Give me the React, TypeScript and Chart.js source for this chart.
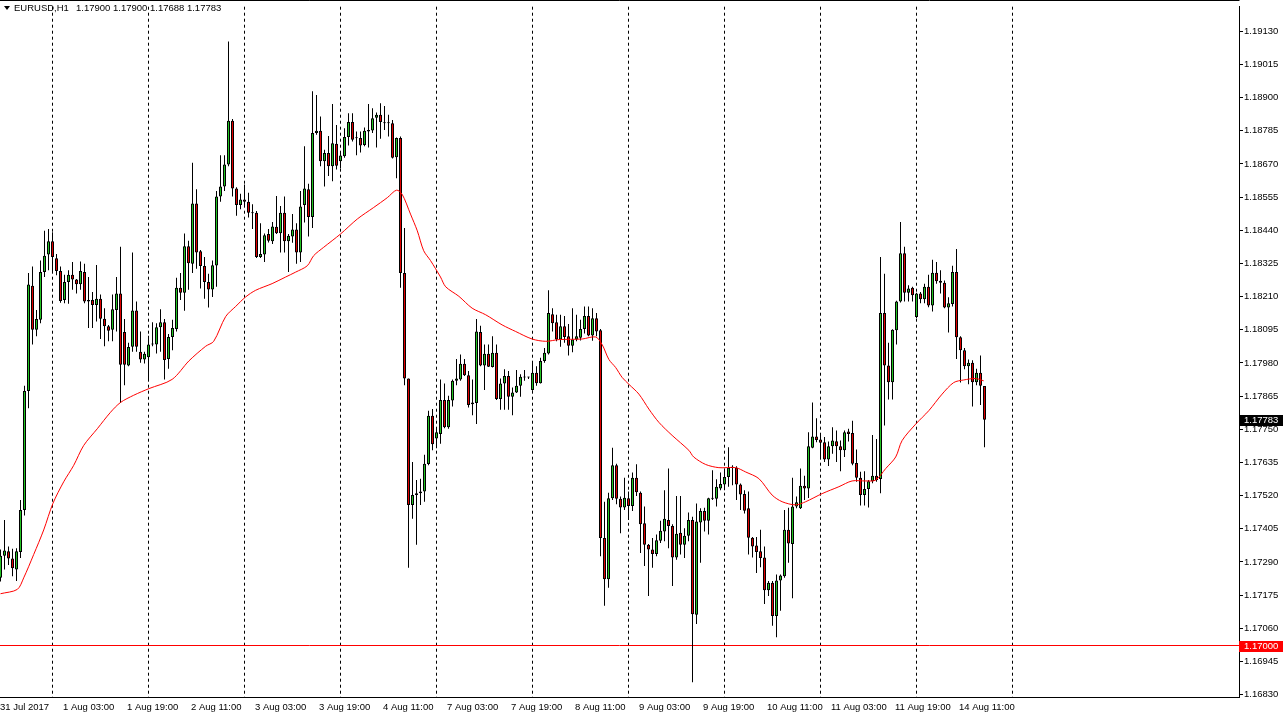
import React, { useEffect, useRef } from "react";
import { Chart, registerables } from "chart.js";

Chart.register(...registerables);

// EURUSD H1 candles, prices in points (price x 100000)
const openPts = [
  117235, 117312, 117327, 117302, 117264, 117325, 117470, 117883, 118248, 118095,
  118130, 118295, 118356, 118402, 118343, 118299, 118198, 118261, 118286, 118269,
  118253, 118295, 118193, 118198, 118181, 118203, 118133, 118107, 118095, 118164,
  118221, 118087, 117971, 118036, 118162, 118019, 117992, 118000, 118044, 118044,
  118104, 118121, 117994, 118070, 118098, 118241, 118223, 118385, 118324, 118533,
  118367, 118316, 118261, 118235, 118318, 118557, 118592, 118668, 118820, 118585,
  118528, 118547, 118539, 118501, 118501, 118347, 118356, 118427, 118402, 118452,
  118430, 118501, 118402, 118418, 118443, 118363, 118528, 118582, 118486, 118777,
  118785, 118679, 118708, 118662, 118740, 118679, 118697, 118763, 118815, 118759,
  118760, 118736, 118782, 118786, 118830, 118840, 118811, 118811, 118811, 118693,
  118760, 118292, 117926, 117488, 117522, 117528, 117534, 117630, 117797, 117718,
  117734, 117852, 117757, 117850, 117918, 117923, 117977, 117937, 117843, 117841,
  118087, 117971, 118012, 117966, 118015, 117855, 117909, 117935, 117863, 117878,
  117901, 117930, 117930, 117886, 117946, 117910, 117987, 118013, 118149, 118121,
  118061, 118107, 118073, 118040, 118061, 118067, 118098, 118143, 118075, 118135,
  118093, 117373, 117230, 117511, 117625, 117509, 117479, 117511, 117484, 117582,
  117530, 117424, 117350, 117333, 117318, 117364, 117396, 117436, 117415, 117306,
  117391, 117350, 117381, 117436, 117107, 117427, 117467, 117433, 117511, 117509,
  117545, 117559, 117585, 117620, 117617, 117559, 117526, 117476, 117374, 117347,
  117327, 117306, 117192, 117218, 117103, 117226, 117241, 117402, 117352, 117482,
  117476, 117554, 117545, 117686, 117725, 117715, 117705, 117645, 117691, 117709,
  117691, 117677, 117742, 117737, 117633, 117582, 117522, 117543, 117570, 117589,
  117578, 118153, 117971, 117913, 118093, 118193, 118360, 118223, 118241, 118139,
  118221, 118201, 118244, 118179, 118293, 118265, 118258, 118172, 118184, 118295,
  118069, 118024, 117969, 117981, 117913, 117946, 117900,
];

const highPts = [
  117333, 117436, 117344, 117336, 117338, 117505, 117901, 118292, 118314, 118164,
  118335, 118438, 118444, 118433, 118358, 118314, 118286, 118301, 118330, 118271,
  118332, 118324, 118278, 118226, 118320, 118217, 118170, 118112, 118217, 118278,
  118383, 118132, 118050, 118363, 118193, 118089, 118019, 118074, 118121, 118118,
  118166, 118132, 118080, 118130, 118275, 118292, 118429, 118404, 118674, 118582,
  118372, 118347, 118289, 118335, 118576, 118700, 118700, 119094, 118826, 118589,
  118567, 118599, 118570, 118530, 118507, 118464, 118429, 118444, 118469, 118559,
  118524, 118557, 118427, 118496, 118464, 118576, 118731, 118601, 118922, 118909,
  118834, 118719, 118767, 118878, 118805, 118713, 118794, 118846, 118846, 118782,
  118782, 118796, 118878, 118863, 118848, 118880, 118871, 118840, 118822, 118762,
  118765, 118448, 117926, 117637, 117574, 117579, 117662, 117814, 117820, 117757,
  117923, 117909, 117866, 117923, 117994, 118009, 117994, 117952, 117923, 118132,
  118109, 118044, 118044, 118073, 118044, 117926, 117958, 117952, 117895, 117956,
  117941, 117956, 117932, 117981, 117969, 117998, 118032, 118232, 118170, 118147,
  118147, 118143, 118115, 118170, 118147, 118130, 118176, 118176, 118170, 118153,
  118098, 117499, 117530, 117686, 117631, 117517, 117582, 117534, 117600, 117629,
  117534, 117482, 117352, 117373, 117385, 117433, 117539, 117614, 117421, 117519,
  117519, 117407, 117462, 117447, 117493, 117476, 117478, 117513, 117608, 117577,
  117600, 117614, 117688, 117625, 117622, 117562, 117539, 117534, 117377, 117377,
  117402, 117344, 117224, 117224, 117247, 117247, 117470, 117478, 117582, 117517,
  117614, 117589, 117740, 117843, 117788, 117731, 117723, 117708, 117757, 117746,
  117711, 117746, 117752, 117780, 117680, 117603, 117605, 117574, 117730, 117716,
  118347, 118289, 118050, 118097, 118196, 118469, 118383, 118249, 118244, 118223,
  118226, 118255, 118286, 118338, 118330, 118301, 118266, 118208, 118317, 118375,
  118073, 118032, 117992, 117989, 117960, 118006, 117900,
];

const lowPts = [
  117222, 117264, 117280, 117241, 117224, 117304, 117451, 117823, 118044, 118073,
  118118, 118278, 118301, 118299, 118284, 118189, 118187, 118185, 118234, 118221,
  118234, 118187, 118101, 118101, 118124, 118063, 118038, 118055, 118055, 118089,
  117841, 117903, 117969, 118019, 118019, 117981, 117978, 117922, 118038, 118013,
  118019, 117923, 117960, 118024, 118089, 118198, 118161, 118234, 118292, 118307,
  118238, 118203, 118172, 118209, 118244, 118539, 118576, 118662, 118557, 118490,
  118513, 118524, 118484, 118444, 118344, 118344, 118330, 118398, 118392, 118427,
  118363, 118363, 118295, 118397, 118324, 118330, 118467, 118418, 118448, 118771,
  118662, 118592, 118628, 118610, 118651, 118654, 118691, 118734, 118748, 118700,
  118710, 118731, 118727, 118777, 118727, 118757, 118788, 118765, 118689, 118620,
  118241, 117903, 117270, 117440, 117350, 117488, 117499, 117625, 117677, 117684,
  117700, 117754, 117752, 117829, 117903, 117918, 117935, 117826, 117799, 117768,
  117969, 117886, 117966, 117964, 117852, 117818, 117818, 117818, 117799, 117876,
  117863, 117918, 117924, 117884, 117901, 117909, 117981, 118009, 118089, 118055,
  118036, 118050, 118006, 118017, 118055, 118058, 118082, 118073, 118057, 118073,
  117310, 117138, 117201, 117505, 117490, 117390, 117470, 117436, 117467, 117519,
  117321, 117276, 117172, 117270, 117310, 117356, 117362, 117338, 117207, 117298,
  117316, 117304, 117362, 116873, 117075, 117287, 117396, 117385, 117505, 117482,
  117539, 117539, 117551, 117556, 117505, 117470, 117458, 117316, 117306, 117252,
  117272, 117144, 117172, 117069, 117029, 117121, 117235, 117287, 117164, 117476,
  117474, 117505, 117512, 117684, 117705, 117654, 117637, 117623, 117665, 117637,
  117605, 117654, 117708, 117625, 117568, 117486, 117486, 117479, 117563, 117568,
  117528, 117763, 117853, 117853, 118044, 118190, 118193, 118193, 118193, 118135,
  118187, 118187, 118173, 118158, 118255, 118221, 118170, 118086, 118176, 117994,
  117912, 117958, 117906, 117829, 117903, 117834, 117688,
];

const closePts = [
  117312, 117330, 117302, 117268, 117327, 117470, 117883, 118252, 118095, 118132,
  118295, 118352, 118402, 118347, 118299, 118195, 118261, 118286, 118269, 118253,
  118299, 118193, 118198, 118181, 118203, 118133, 118107, 118092, 118166, 118221,
  117974, 117974, 118035, 118162, 118036, 117992, 118012, 118044, 118047, 118104,
  118121, 117990, 118070, 118101, 118241, 118223, 118385, 118326, 118533, 118363,
  118316, 118261, 118235, 118319, 118557, 118592, 118668, 118820, 118585, 118528,
  118547, 118539, 118501, 118499, 118347, 118358, 118423, 118404, 118453, 118430,
  118501, 118402, 118421, 118443, 118363, 118522, 118585, 118486, 118777, 118785,
  118679, 118708, 118662, 118742, 118664, 118699, 118763, 118815, 118754, 118759,
  118734, 118785, 118788, 118828, 118840, 118815, 118811, 118811, 118691, 118760,
  118292, 117926, 117488, 117522, 117528, 117534, 117631, 117797, 117698, 117740,
  117852, 117757, 117852, 117918, 117926, 117977, 117937, 117834, 117837, 118089,
  117971, 118012, 117967, 118015, 117855, 117909, 117935, 117863, 117878, 117901,
  117932, 117930, 117930, 117946, 117910, 117987, 118015, 118153, 118118, 118061,
  118107, 118070, 118040, 118061, 118073, 118098, 118143, 118075, 118135, 118089,
  117373, 117230, 117511, 117625, 117509, 117479, 117513, 117484, 117582, 117532,
  117421, 117350, 117333, 117318, 117365, 117398, 117440, 117415, 117306, 117388,
  117350, 117381, 117436, 117109, 117430, 117467, 117433, 117511, 117509, 117551,
  117560, 117585, 117617, 117616, 117559, 117524, 117468, 117374, 117344, 117325,
  117304, 117192, 117218, 117103, 117226, 117243, 117402, 117354, 117482, 117497,
  117554, 117545, 117691, 117725, 117713, 117703, 117645, 117691, 117711, 117691,
  117677, 117740, 117734, 117631, 117582, 117522, 117543, 117570, 117589, 117574,
  118153, 117971, 117913, 118095, 118193, 118360, 118223, 118238, 118215, 118221,
  118201, 118244, 118179, 118293, 118263, 118258, 118172, 118187, 118295, 118069,
  118024, 117969, 117981, 117913, 117946, 117901, 117783,
];

// Moving average (red line), read at these bar positions
const maIdx = [
  0, 4.2, 5.8, 8.3, 10.8, 13.1, 15.8, 18.3, 20.8, 24.2, 27.5, 30, 33.3, 37.1, 42.9,
  47.1, 51.3, 53.3, 56.3, 58.8, 61.3, 63.8, 67.9, 71.3, 73.8, 76.7, 78.3, 80.8, 85,
  89.2, 93.3, 96.7, 99, 100.4, 102.5, 104.2, 105.8, 107.5, 110, 111.3, 114.6, 117.9,
  121.3, 125.4, 128.8, 132.9, 136.3, 139.6, 145.4, 148.8, 150.4, 152.1, 153.8, 155.4,
  157.1, 159.6, 162.1, 164.6, 167.9, 172.1, 173.3, 176.3, 179.6, 183.8, 186.3, 189.6,
  192.9, 195.4, 198.8, 201.3, 205.4, 209.6, 212.9, 216.3, 218.8, 221.3, 223.8, 225.4,
  228.8, 232.1, 235.4, 238.3, 240.8, 243.8, 245.8,
];
const maPts = [
  117180, 117195, 117235, 117316, 117401, 117493, 117568, 117625, 117694, 117752, 117809,
  117843, 117868, 117891, 117923, 117987, 118038, 118055, 118141, 118176, 118209, 118232,
  118255, 118278, 118295, 118317, 118352, 118381, 118427, 118479, 118519, 118553, 118579,
  118565, 118496, 118438, 118369, 118335, 118278, 118244, 118211, 118170, 118147, 118112,
  118089, 118063, 118055, 118061, 118063, 118070, 118044, 117992, 117964, 117930, 117906,
  117872, 117820, 117774, 117729, 117677, 117654, 117628, 117617, 117617, 117602, 117579,
  117522, 117499, 117488, 117499, 117527, 117551, 117571, 117571, 117574, 117614, 117654,
  117711, 117768, 117815, 117872, 117912, 117921, 117926, 117918,
];

const yTickPts = [
  116830, 116945, 117060, 117175, 117290, 117405, 117520, 117635, 117750, 117865, 117980,
  118095, 118210, 118325, 118440, 118555, 118670, 118785, 118900, 119015, 119130,
];

const timeLabels = [
  "31 Jul 2017", "1 Aug 03:00", "1 Aug 19:00", "2 Aug 11:00", "3 Aug 03:00", "3 Aug 19:00",
  "4 Aug 11:00", "7 Aug 03:00", "7 Aug 19:00", "8 Aug 11:00", "9 Aug 03:00", "9 Aug 19:00",
  "10 Aug 11:00", "11 Aug 03:00", "11 Aug 19:00", "14 Aug 11:00",
];
const timeLabelIdx = [0, 16, 32, 48, 64, 80, 96, 112, 128, 144, 160, 176, 192, 208, 224, 240];
const gridIdx = [13, 37, 61, 85, 109, 133, 157, 181, 205, 229, 253];

const symbolTitle = "EURUSD,H1";
const lastBarPts = [117900, 117900, 117688, 117783];
const levelPts = 117000;

const BULL = "#22c422";
const BEAR = "#e00000";
const FONT_FAMILY = '"Liberation Sans", Arial, sans-serif';
const FONT = `9.5px ${FONT_FAMILY}`;
const fmt = (v: number) => (v / 100000).toFixed(5);

const overlayPlugin = {
  id: "mt4Overlay",
  beforeDatasetsDraw(chart: any) {
    const { ctx, chartArea: a, scales } = chart;
    const x = scales.x;
    const y = scales.y;
    ctx.save();
    ctx.strokeStyle = "#000";
    ctx.lineWidth = 1;
    ctx.setLineDash([3, 3]);
    for (const g of gridIdx) {
      const px = Math.floor(x.getPixelForValue(g)) + 0.5;
      ctx.beginPath();
      ctx.moveTo(px, a.top);
      ctx.lineTo(px, a.bottom);
      ctx.stroke();
    }
    ctx.setLineDash([]);
    const ly = Math.floor(y.getPixelForValue(levelPts)) + 0.5;
    ctx.strokeStyle = "#ff0000";
    ctx.beginPath();
    ctx.moveTo(a.left, ly);
    ctx.lineTo(a.right, ly);
    ctx.stroke();
    ctx.restore();
  },
  afterDraw(chart: any) {
    const { ctx, chartArea: a, scales } = chart;
    const x = scales.x;
    const y = scales.y;
    ctx.save();
    // top frame line
    ctx.strokeStyle = "#000";
    ctx.lineWidth = 1;
    ctx.beginPath();
    ctx.moveTo(0, 0.5);
    ctx.lineTo(a.right + 0.5, 0.5);
    ctx.stroke();

    ctx.font = FONT;
    ctx.textBaseline = "middle";
    ctx.textAlign = "left";
    ctx.fillStyle = "#000";
    // header
    ctx.beginPath();
    ctx.moveTo(4, 6);
    ctx.lineTo(10, 6);
    ctx.lineTo(7, 10);
    ctx.closePath();
    ctx.fill();
    ctx.fillText(symbolTitle, 14, 8.5);
    ctx.fillText(lastBarPts.map(fmt).join(" "), 76, 8.5);

    // time labels
    timeLabels.forEach((t, k) => {
      const px = Math.max(0, x.getPixelForValue(timeLabelIdx[k]) - 1.5);
      ctx.fillText(t, px, 707.5);
    });

    // current price box
    const lastClose = closePts[closePts.length - 1];
    const cy = Math.round(y.getPixelForValue(lastClose));
    ctx.fillStyle = "#000";
    ctx.fillRect(a.right + 1, cy - 5, 1283 - a.right - 1, 11);
    ctx.fillStyle = "#fff";
    ctx.fillText(fmt(lastClose), a.right + 5, cy + 0.5);

    // level box
    const ry = Math.round(y.getPixelForValue(levelPts));
    ctx.fillStyle = "#ff0000";
    ctx.fillRect(a.right, ry - 5, 1283 - a.right, 11);
    ctx.fillStyle = "#fff";
    ctx.fillText(fmt(levelPts), a.right + 5, ry + 0.5);
    ctx.restore();
  },
};

export default function App() {
  const canvasRef = useRef<HTMLCanvasElement | null>(null);

  useEffect(() => {
    const canvas = canvasRef.current;
    if (!canvas) return;
    const idx = openPts.map((_, i) => i);
    const wickData = idx.map((i) => ({ x: i, y: [lowPts[i], highPts[i]] }));
    const bodyData = idx.map((i) => ({
      x: i,
      y: [Math.min(openPts[i], closePts[i]), Math.max(openPts[i], closePts[i])],
    }));
    const bodyColors = idx.map((i) =>
      closePts[i] > openPts[i] ? BULL : closePts[i] < openPts[i] ? BEAR : "#000"
    );
    const maData = maIdx.map((v, k) => ({ x: v, y: maPts[k] }));

    const chart = new Chart(canvas, {
      type: "bar",
      data: {
        datasets: [
          {
            type: "bar",
            label: "body",
            data: bodyData as any,
            backgroundColor: bodyColors,
            borderColor: "#000",
            borderWidth: 1,
            borderSkipped: false,
            barThickness: 3,
            minBarLength: 1,
            grouped: false,
            inflateAmount: 0,
            order: 1,
          } as any,
          {
            type: "bar",
            label: "wick",
            data: wickData as any,
            backgroundColor: "#000",
            borderWidth: 0,
            barThickness: 1,
            grouped: false,
            inflateAmount: 0,
            order: 2,
          } as any,
          {
            type: "line",
            label: "MA",
            data: maData as any,
            borderColor: "#ff0000",
            borderWidth: 1,
            pointRadius: 0,
            tension: 0.3,
            order: 0,
          } as any,
        ],
      },
      options: {
        responsive: false,
        animation: false,
        devicePixelRatio: 1,
        events: [],
        layout: { padding: { top: 1, left: 0, right: 0, bottom: 0 } },
        plugins: { legend: { display: false }, tooltip: { enabled: false } },
        scales: {
          x: {
            type: "linear",
            offset: false,
            min: -0.125,
            max: 309.625,
            grid: { display: true, offset: false, drawOnChartArea: false, drawTicks: false },
            ticks: { display: false },
            border: { display: true, color: "#000", width: 1 },
            afterFit: (s: any) => {
              s.height = 23;
            },
          },
          y: {
            type: "linear",
            position: "right",
            min: 116822,
            max: 119215,
            grid: { drawOnChartArea: false, drawTicks: true, tickLength: 4, color: "#000" },
            border: { display: true, color: "#000", width: 1 },
            ticks: {
              color: "#000",
              font: { family: FONT_FAMILY, size: 9.5 },
              padding: 1,
              autoSkip: false,
              callback: (v: any) => fmt(Number(v)),
            },
            afterBuildTicks: (s: any) => {
              s.ticks = yTickPts.map((v) => ({ value: v }));
            },
            afterFit: (s: any) => {
              s.width = 44;
            },
          },
        },
      } as any,
      plugins: [overlayPlugin],
    });
    return () => chart.destroy();
  }, []);

  return (
    <div
      style={{
        position: "fixed",
        left: 0,
        top: 0,
        width: 1283,
        height: 720,
        background: "#fff",
      }}
    >
      <canvas ref={canvasRef} width={1283} height={720} style={{ display: "block" }} />
    </div>
  );
}
